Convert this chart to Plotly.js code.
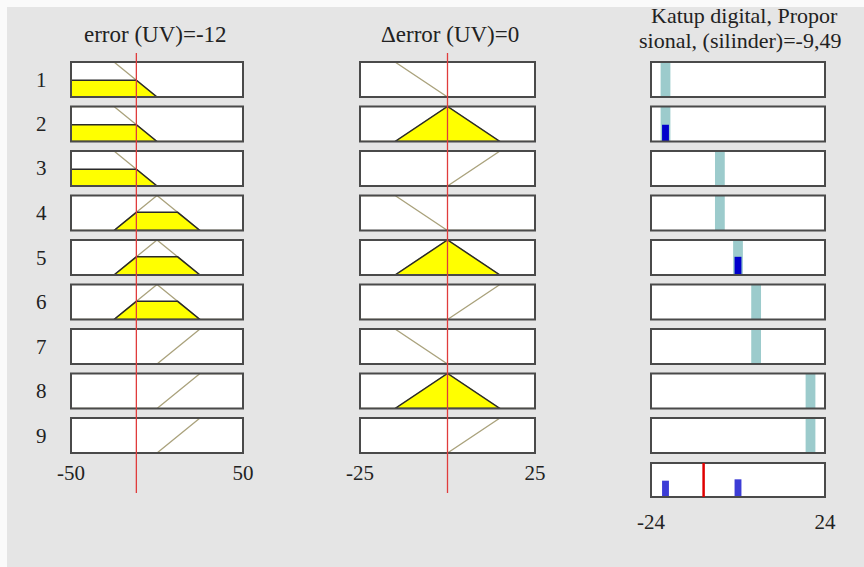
<!DOCTYPE html>
<html><head><meta charset="utf-8">
<script src="https://cdn.plot.ly/plotly-3.0.1.min.js"></script>
<style>html,body{margin:0;padding:0;background:#e5e5e5;overflow:hidden}</style>
</head><body><div id="chart" style="width:864px;height:567px"></div>
<script>
// ---------- data ----------
const errorRange = [-50, 50];
const deltaRange = [-25, 25];
const outputRange = [-24, 24];
const errorValue = -12;
const deltaValue = 0;
const outputValue = -9.49;
const errorTitle = 'error (UV)=-12';
const deltaTitle = '\u0394error (UV)=0';
const outputTitle1 = 'Katup digital, Propor';
const outputTitle2 = 'sional, (silinder)=-9,49';
// membership functions as trapezoid params [a,b,c,d]
const errorNB = [-50, -50, -25, 0];
const errorZ = [-25, 0, 0, 25];
const errorPB = [0, 25, 50, 50];
const deltaN = [-25, -25, -15, 0];
const deltaZ = [-15, 0, 0, 15];
const deltaP = [0, 15, 25, 25];
const ruleNumbers = ['1','2','3','4','5','6','7','8','9'];
const ruleErrorMF = ['NB','NB','NB','Z','Z','Z','PB','PB','PB'];
const ruleDeltaMF = ['N','Z','P','N','Z','P','N','Z','P'];
const ruleOutput = [-20, -20, -5, -5, 0, 5, 5, 20, 20];
const errorTicks = [-50, 50];
const errorTickText = ['-50', '50'];
const deltaTicks = [-25, 25];
const deltaTickText = ['-25', '25'];
const outputTicks = [-24, 24];
const outputTickText = ['-24', '24'];

// ---------- helpers ----------
const errorMFs = {NB: errorNB, Z: errorZ, PB: errorPB};
const deltaMFs = {N: deltaN, Z: deltaZ, P: deltaP};
function mu(p, x) {
  const [a,b,c,d] = p;
  if (x < a || x > d) return 0;
  if (x >= b && x <= c) return 1;
  if (x < b) return (x - a) / (b - a);
  return (d - x) / (d - c);
}
function mfPoints(p, r) {
  let xs = [r[0], ...p, r[1]].filter(v => v >= r[0] && v <= r[1]);
  xs = [...new Set(xs)].sort((u, v) => u - v);
  return xs.map(x => [x, mu(p, x)]);
}
function clipPoly(pts, h) {
  const out = [];
  for (let i = 0; i < pts.length; i++) {
    const [x, y] = pts[i];
    if (i > 0) {
      const [px, py] = pts[i-1];
      if ((py - h) * (y - h) < 0) {
        const t = (h - py) / (y - py);
        out.push([px + t * (x - px), h]);
      }
    }
    out.push([x, Math.min(y, h)]);
  }
  let s = 0, e = out.length - 1;
  while (s < out.length - 1 && out[s + 1][1] === 0) s++;
  while (e > 0 && out[e - 1][1] === 0) e--;
  const seg = out.slice(s, e + 1);
  const first = seg[0], last = seg[seg.length-1];
  return [[first[0], 0], ...seg, [last[0], 0], [first[0], 0]];
}

// ---------- geometry (px) ----------
const W = 864, H = 567;
const colX = [[71, 243], [360, 535], [651, 825]];
const rowTop = i => 62 + 44.5 * i;
const rowH = 35;
const aggTop = 463, aggBot = 497;

const traces = [];
const layout = {
  width: W, height: H, margin: {l:0, r:0, t:0, b:0},
  paper_bgcolor: '#e5e5e5', plot_bgcolor: '#ffffff',
  showlegend: false, barmode: 'overlay',
  font: {family: 'Liberation Serif, Times New Roman, serif', size: 20, color: '#222'},
  annotations: [],
  shapes: [
    {type:'rect', xref:'paper', yref:'paper', x0:0, x1:7 / W, y0:0, y1:1, fillcolor:'#fafafa', line:{width:0}, layer:'below'},
    {type:'rect', xref:'paper', yref:'paper', x0:0, x1:1, y0:1 - 7 / H, y1:1, fillcolor:'#fafafa', line:{width:0}, layer:'below'}
  ]
};
const mfLine = '#aaa27c';
let k = 0;
function addAxis(col, top, bot, range, ticks, tickText, tickLen) {
  k++;
  const xa = k === 1 ? 'xaxis' : 'xaxis' + k;
  const ya = k === 1 ? 'yaxis' : 'yaxis' + k;
  const xn = k === 1 ? 'x' : 'x' + k, yn = k === 1 ? 'y' : 'y' + k;
  layout[xa] = {
    domain: [colX[col][0] / W, colX[col][1] / W], anchor: yn,
    range: range, showgrid: false, zeroline: false, fixedrange: true,
    showline: false,
    showticklabels: !!ticks, tickvals: ticks || [], ticktext: tickText || [],
    ticks: ticks ? 'outside' : '',
    ticklen: tickLen || 0, tickcolor: 'rgba(0,0,0,0)',
    tickfont: {family: 'Liberation Serif, serif', size: 21, color: '#222'}
  };
  layout[ya] = {
    domain: [1 - bot / H, 1 - top / H], anchor: xn,
    range: [0, 1], showgrid: false, zeroline: false, fixedrange: true,
    showline: false, showticklabels: false
  };
  layout.shapes.push({type:'rect', xref: xn + ' domain', yref: yn + ' domain', x0:0, x1:1, y0:0, y1:1,
    line:{color:'#4a4a4a', width:2}, fillcolor:'rgba(0,0,0,0)', layer:'above'});
  return [xn, yn];
}

const firing = [];
let firstErrX = null, firstDeltaX = null;
for (let i = 0; i < ruleNumbers.length; i++) {
  const top = rowTop(i), bot = top + rowH;
  const last = i === ruleNumbers.length - 1;
  const me = mu(errorMFs[ruleErrorMF[i]], errorValue);
  const md = mu(deltaMFs[ruleDeltaMF[i]], deltaValue);
  firing.push(Math.min(me, md));
  // error column
  let [xr, yr] = addAxis(0, top, bot, errorRange, last ? errorTicks : null, last ? errorTickText : null, 1);
  if (i === 0) firstErrX = xr;
  let pts = mfPoints(errorMFs[ruleErrorMF[i]], errorRange);
  traces.push({type:'scatter', mode:'lines', xaxis:xr, yaxis:yr, x:pts.map(p=>p[0]), y:pts.map(p=>p[1]), line:{color:mfLine, width:1.3}, hoverinfo:'skip'});
  if (me > 0) {
    const poly = clipPoly(pts, me);
    traces.push({type:'scatter', mode:'lines', xaxis:xr, yaxis:yr, x:poly.map(p=>p[0]), y:poly.map(p=>p[1]), fill:'toself', fillcolor:'#ffff00', line:{color:'#2a2a2a', width:1.5}, hoverinfo:'skip'});
  }
  // delta column
  [xr, yr] = addAxis(1, top, bot, deltaRange, last ? deltaTicks : null, last ? deltaTickText : null, 1);
  if (i === 0) firstDeltaX = xr;
  pts = mfPoints(deltaMFs[ruleDeltaMF[i]], deltaRange);
  traces.push({type:'scatter', mode:'lines', xaxis:xr, yaxis:yr, x:pts.map(p=>p[0]), y:pts.map(p=>p[1]), line:{color:mfLine, width:1.3}, hoverinfo:'skip'});
  if (md > 0) {
    const poly = clipPoly(pts, md);
    traces.push({type:'scatter', mode:'lines', xaxis:xr, yaxis:yr, x:poly.map(p=>p[0]), y:poly.map(p=>p[1]), fill:'toself', fillcolor:'#ffff00', line:{color:'#2a2a2a', width:1.5}, hoverinfo:'skip'});
  }
  // output column
  [xr, yr] = addAxis(2, top, bot, outputRange, null, null, 0);
  traces.push({type:'bar', xaxis:xr, yaxis:yr, x:[ruleOutput[i]], y:[1], width:[2.7], marker:{color:'#9ccbcc', line:{width:0}}, hoverinfo:'skip'});
  if (firing[i] > 0) {
    traces.push({type:'bar', xaxis:xr, yaxis:yr, x:[ruleOutput[i]], y:[firing[i]], width:[1.9], marker:{color:'#0000cc', line:{width:0}}, hoverinfo:'skip'});
  }
  layout.annotations.push({xref:'paper', yref:'paper', x:41 / W, y:1 - (top + rowH / 2) / H, text:ruleNumbers[i], showarrow:false, xanchor:'center', yanchor:'middle', font:{size:21}});
}
// aggregate
const [xa, ya] = addAxis(2, aggTop, aggBot, outputRange, outputTicks, outputTickText, 6);
const aggX = [], aggY = [];
ruleOutput.forEach((o, i) => { if (firing[i] > 0) { aggX.push(o); aggY.push(firing[i]); } });
traces.push({type:'bar', xaxis:xa, yaxis:ya, x:aggX, y:aggY, width:aggX.map(()=>1.9), marker:{color:'#3c3cd6', line:{width:0}}, hoverinfo:'skip'});
layout.shapes.push({type:'line', xref:xa, yref:ya, x0:outputValue, x1:outputValue, y0:0, y1:1.03, line:{color:'#e00000', width:2.5}, layer:'above'});
// input red lines
layout.shapes.push({type:'line', xref:firstErrX, yref:'paper', x0:errorValue, x1:errorValue, y0:1 - 493 / H, y1:1 - 53 / H, line:{color:'#e03c3c', width:1.3}, layer:'above'});
layout.shapes.push({type:'line', xref:firstDeltaX, yref:'paper', x0:deltaValue, x1:deltaValue, y0:1 - 493 / H, y1:1 - 53 / H, line:{color:'#e03c3c', width:1.3}, layer:'above'});
// titles
layout.annotations.push({xref:'paper', yref:'paper', x:155 / W, y:1 - 34 / H, text:errorTitle, showarrow:false, xanchor:'center', yanchor:'middle', font:{size:23}});
layout.annotations.push({xref:'paper', yref:'paper', x:450 / W, y:1 - 34 / H, text:deltaTitle, showarrow:false, xanchor:'center', yanchor:'middle', font:{size:23}});
layout.annotations.push({xref:'paper', yref:'paper', x:744 / W, y:1 - 15 / H, text:outputTitle1, showarrow:false, xanchor:'center', yanchor:'middle', font:{size:22}});
layout.annotations.push({xref:'paper', yref:'paper', x:740 / W, y:1 - 40 / H, text:outputTitle2, showarrow:false, xanchor:'center', yanchor:'middle', font:{size:22}});

Plotly.newPlot('chart', traces, layout, {staticPlot:true, displayModeBar:false});
</script></body></html>
